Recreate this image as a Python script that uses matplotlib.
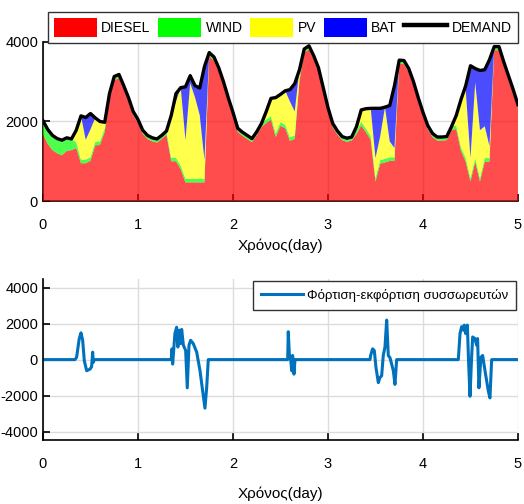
import numpy as np
import matplotlib
matplotlib.use("Agg")
import matplotlib.pyplot as plt
from matplotlib.patches import Patch
from matplotlib.lines import Line2D

plt.rcParams['font.family'] = ['Liberation Sans', 'DejaVu Sans']
plt.rcParams['axes.unicode_minus'] = False

# time grid of the energy mix (days, 0.05 step)
t = np.linspace(0, 5, 101)

demand = [2020, 1800, 1650, 1570, 1530, 1590, 1560, 1780, 2140, 2100, 2200, 2090, 2000, 1980, 2700, 3130, 3180, 2900, 2600, 2250,
          2050, 1780, 1650, 1590, 1560, 1650, 1760, 2150, 2700, 2850, 2870, 3150, 2900, 2840, 3380, 3730, 3620, 3350, 3000, 2600,
          2230, 1830, 1730, 1650, 1570, 1740, 1950, 2250, 2580, 2600, 2680, 2770, 2800, 2950, 3300, 3820, 3900, 3650, 3350, 2850,
          2350, 1950, 1760, 1620, 1580, 1610, 1870, 2290, 2320, 2330, 2330, 2330, 2360, 2400, 2900, 3540, 3530, 3330, 3000, 2600,
          2230, 1900, 1700, 1610, 1610, 1620, 1870, 2150, 2550, 2900, 3400, 3330, 3280, 3300, 3550, 3880, 3880, 3500, 3150, 2800,
          2420]

wind = [350, 360, 370, 370, 380, 330, 280, 150, 90, 90, 90, 90, 90, 90, 90, 90, 90, 90, 90, 90,
        90, 90, 90, 90, 90, 90, 90, 90, 90, 90, 90, 90, 90, 90, 90, 90, 90, 90, 90, 90,
        90, 90, 90, 90, 90, 90, 90, 90, 90, 90, 90, 90, 90, 90, 90, 90, 90, 90, 90, 90,
        90, 90, 90, 90, 90, 90, 90, 90, 90, 90, 90, 90, 90, 90, 90, 90, 90, 90, 90, 90,
        90, 90, 90, 90, 90, 90, 90, 90, 90, 90, 90, 90, 90, 90, 90, 90, 90, 90, 90, 90,
        90]

pv = [0, 0, 0, 0, 0, 0, 0, 300, 1100, 500, 700, 600, 500, 150, 0, 0, 0, 0, 0, 0,
      0, 0, 0, 0, 0, 0, 0, 1060, 1410, 1960, 970, 2400, 2050, 1600, 470, 0, 0, 0, 0, 0,
      0, 0, 0, 0, 0, 0, 0, 200, 450, 900, 700, 850, 900, 600, 200, 0, 0, 0, 0, 0,
      0, 0, 0, 0, 0, 0, 100, 300, 500, 700, 500, 600, 1300, 400, 230, 0, 0, 0, 0, 0,
      0, 0, 0, 0, 0, 0, 0, 250, 1200, 1700, 500, 1900, 1200, 800, 300, 0, 0, 0, 0, 0,
      0]

bat = [0, 0, 0, 0, 0, 0, 0, 0, 0, 560, 400, 0, 0, 0, 0, 0, 0, 0, 0, 0,
       0, 0, 0, 0, 0, 0, 0, 0, 200, 0, 1340, 190, 290, 680, 2350, 0, 0, 0, 0, 0,
       0, 0, 0, 0, 0, 0, 0, 0, 0, 0, 0, 0, 300, 700, 0, 0, 0, 0, 0, 0,
       0, 0, 0, 0, 0, 0, 0, 0, 0, 0, 1250, 700, 0, 900, 1570, 0, 0, 0, 0, 0,
       0, 0, 0, 0, 0, 0, 0, 0, 0, 120, 2320, 350, 1500, 1420, 2170, 0, 0, 0, 0, 0,
       0]

diesel = np.array(demand) - np.array(wind) - np.array(pv) - np.array(bat)

# battery charge / discharge power
t_bat = [0, 0.337, 0.354, 0.382, 0.40, 0.418, 0.435, 0.46, 0.495, 0.512, 0.523, 0.53, 0.54,
         1.35, 1.358, 1.365, 1.389, 1.407, 1.42, 1.435, 1.448, 1.46, 1.478, 1.502, 1.519, 1.537,
         1.554, 1.582, 1.618, 1.653, 1.681, 1.705, 1.723, 1.74,
         2.576, 2.582, 2.593, 2.607, 2.618, 2.628, 2.642, 2.653, 2.688,
         3.442, 3.449, 3.47, 3.488, 3.505, 3.53, 3.547, 3.565, 3.582, 3.60, 3.618, 3.635, 3.653,
         3.688, 3.705, 3.723,
         4.372, 4.39, 4.407, 4.425, 4.435, 4.449, 4.467, 4.481, 4.495, 4.512, 4.523, 4.547, 4.565,
         4.575, 4.589, 4.61, 4.628, 4.653, 4.688, 4.705, 4.723, 5.0]
p_bat = [0, 0, 130, 1170, 1490, 1075, -60, -620, -530, -400, 415, -150, 0,
         0, 600, -250, 1450, 1800, 700, 1640, 890, 1680, 800, 510, -1570, 800,
         1075, 890, 415, -620, -1750, -2700, -1570, 0,
         0, 1550, 320, 50, -620, 230, -810, 0, 0,
         0, 230, 600, 500, -430, -1280, -1000, -900, 230, 700, 2200, 230, 100,
         -620, -1380, 0,
         0, 1450, 1830, 1640, 1920, 1450, 1920, -250, -2040, 130, 1260, 1170, 800,
         1170, -1570, 130, 230, -620, -1750, -2130, 0, 0]

labels = ['DIESEL', 'WIND', 'PV', 'BAT', 'DEMAND']
colors = ['#ff0000', '#00ff00', '#ffff00', '#0000ff']

fig = plt.figure(figsize=(5.24, 5.04), dpi=100)
ax1 = fig.add_axes([0.082, 0.601, 0.9065, 0.316])
ax2 = fig.add_axes([0.082, 0.126, 0.9065, 0.321])

# top: energy mix
ax1.stackplot(t, diesel, wind, pv, bat, colors=colors, alpha=0.7, linewidth=0, zorder=3)
ax1.plot(t, demand, color='black', linewidth=2.4, zorder=4)
ax1.set_xlim(0, 5)
ax1.set_ylim(0, 4000)
ax1.set_yticks([0, 2000, 4000])
ax1.set_xlabel('Χρόνος(day)', fontsize=11, labelpad=5)
handles = [Patch(facecolor=c, edgecolor='none') for c in colors]
handles.append(Line2D([0], [0], color='black', linewidth=3.2))
ax1.legend(handles, labels, ncol=5, loc='lower center', bbox_to_anchor=(0.505, 0.99),
           fontsize=10, handlelength=3.1, handleheight=1.7, columnspacing=0.55,
           handletextpad=0.3, fancybox=False, edgecolor='#333333', framealpha=1,
           borderpad=0.45, borderaxespad=0.0)

# bottom: battery power
ax2.plot(t_bat, p_bat, color='#0072bd', linewidth=2.2,
         label='Φόρτιση-εκφόρτιση συσσωρευτών')
ax2.set_xlim(0, 5)
ax2.set_ylim(-4500, 4500)
ax2.set_yticks([-4000, -2000, 0, 2000, 4000])
ax2.set_xlabel('Χρόνος(day)', fontsize=11, labelpad=11)
ax2.legend(loc='upper right', fontsize=9.5, handlelength=3.2, handletextpad=0.3,
           fancybox=False, edgecolor='#333333', framealpha=1,
           borderaxespad=0.15, borderpad=0.6)

for ax in (ax1, ax2):
    ax.set_xticks([0, 1, 2, 3, 4, 5])
    ax.grid(True, color='#dcdcdc', linewidth=1.0)
    ax.set_axisbelow(True)
    ax.spines['top'].set_visible(False)
    ax.spines['right'].set_visible(False)
    ax.spines['left'].set_linewidth(1.2)
    ax.spines['bottom'].set_linewidth(1.2)
    ax.tick_params(direction='in', length=5, width=1.2, labelsize=10.5)
    ax.tick_params(axis='y', pad=3.5)
    ax.tick_params(axis='x', pad=12)

fig.savefig('out.png', dpi=100)
